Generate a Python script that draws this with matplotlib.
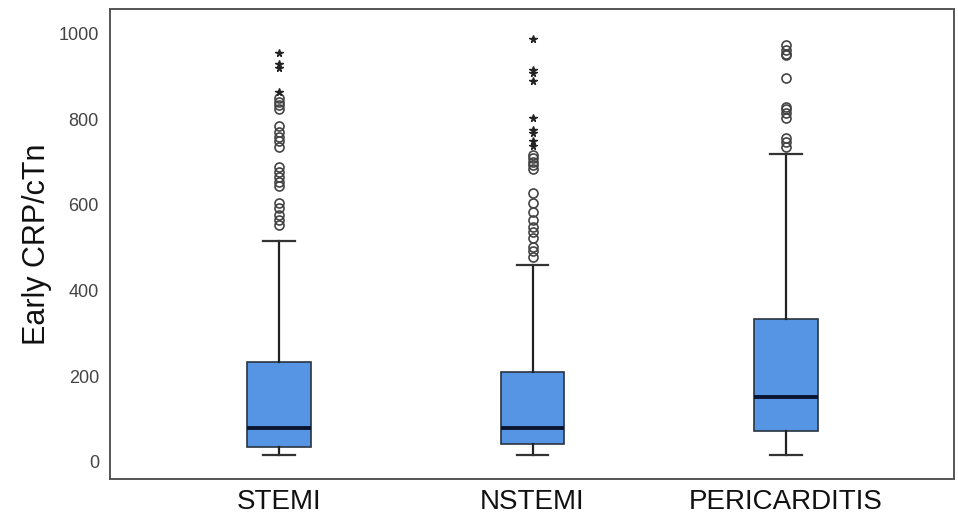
import matplotlib
matplotlib.use("Agg")
import matplotlib.pyplot as plt

plt.rcParams['font.family'] = ['Liberation Sans', 'DejaVu Sans']

categories = ["STEMI", "NSTEMI", "PERICARDITIS"]
q1 = [35, 42, 72]
medians = [79, 79, 152]
q3 = [233, 210, 334]
whisker_low = [16, 16, 16]
whisker_high = [516, 460, 719]

# mild outliers (circles)
circle_outliers = [
    [849, 841, 833, 824, 783, 769, 759, 748, 734, 688, 677, 666, 654, 644,
     605, 592, 576, 565, 553],
    [716, 709, 701, 693, 683, 627, 605, 584, 565, 549, 537, 522, 502, 491, 478],
    [972, 961, 953, 950, 897, 829, 823, 814, 802, 757, 747, 736],
]
# extreme outliers (stars)
star_outliers = [
    [955, 929, 919, 864],
    [986, 915, 907, 888, 802, 775, 767, 748, 737],
    [],
]
yticks = [0, 200, 400, 600, 800, 1000]

fig = plt.figure(figsize=(9.58, 5.16), dpi=100)
ax = fig.add_axes([110/958, 1 - 479/516, (954-110)/958, (479-9)/516])

positions = [1, 2, 3]
stats = []
for i, c in enumerate(categories):
    stats.append(dict(label=c, q1=q1[i], med=medians[i], q3=q3[i],
                      whislo=whisker_low[i], whishi=whisker_high[i],
                      fliers=circle_outliers[i]))

ax.bxp(stats, positions=positions, widths=0.25, capwidths=0.125,
       patch_artist=True, showfliers=True,
       boxprops=dict(facecolor='#5595e4', edgecolor='#2a3440', linewidth=1.2),
       medianprops=dict(color='#0a1630', linewidth=2.8),
       whiskerprops=dict(color='#222222', linewidth=1.6),
       capprops=dict(color='#333333', linewidth=1.6),
       flierprops=dict(marker='o', markerfacecolor='none', markeredgecolor='#444444',
                       markersize=6.5, markeredgewidth=1.2, linestyle='none'))

for i, pos in enumerate(positions):
    if star_outliers[i]:
        ax.plot([pos] * len(star_outliers[i]), star_outliers[i], linestyle='none',
                marker='*', markersize=5.5, color='#222222')

ax.set_xlim(0.333, 3.663)
ax.set_ylim(-40, 1057)
ax.set_yticks(yticks)
ax.set_yticklabels([str(t) for t in yticks], fontsize=13, color='#444444')
ax.set_xticks(positions)
ax.set_xticklabels(categories, fontsize=20, color='#111111')
ax.tick_params(axis='both', length=0)
ax.tick_params(axis='y', pad=8)
ax.tick_params(axis='x', pad=7)
ax.set_ylabel("Early CRP/cTn", fontsize=22, color='#111111', labelpad=5)
for sp in ax.spines.values():
    sp.set_color('#555555')
    sp.set_linewidth(1.4)

fig.savefig("out.png", dpi=100, facecolor='white')
